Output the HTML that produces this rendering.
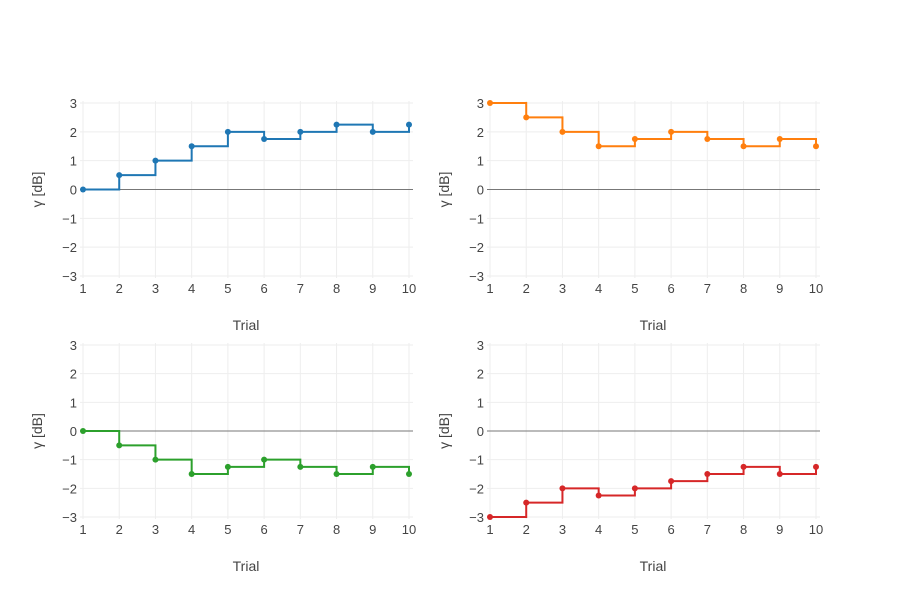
<!DOCTYPE html>
<html><head><meta charset="utf-8"><style>
body{margin:0;background:#fff;}
svg{font-family:"Liberation Sans","DejaVu Sans",sans-serif;}
</style></head><body>
<svg id="chart" width="900" height="600"></svg>
<script>
const trials=[1,2,3,4,5,6,7,8,9,10];
const seriesA=[0,0.5,1,1.5,2,1.75,2,2.25,2,2.25];
const seriesB=[3,2.5,2,1.5,1.75,2,1.75,1.5,1.75,1.5];
const seriesC=[0,-0.5,-1,-1.5,-1.25,-1,-1.25,-1.5,-1.25,-1.5];
const seriesD=[-3,-2.5,-2,-2.25,-2,-1.75,-1.5,-1.25,-1.5,-1.25];
const yTicks=[-3,-2,-1,0,1,2,3];
const yTickLabels=["−3","−2","−1","0","1","2","3"];
const xTicks=[1,2,3,4,5,6,7,8,9,10];
const NS="http://www.w3.org/2000/svg";
const svg=document.getElementById('chart');
function mk(t,a,p){const e=document.createElementNS(NS,t);for(const k in a)e.setAttribute(k,a[k]);(p||svg).appendChild(e);return e;}
const panels=[
 {d:seriesA,c:"#1f77b4",x0:83,x1:409,y0:103,y1:276,n:"top-left"},
 {d:seriesB,c:"#ff7f0e",x0:490,x1:816,y0:103,y1:276,n:"top-right"},
 {d:seriesC,c:"#2ca02c",x0:83,x1:409,y0:345,y1:517,n:"bottom-left"},
 {d:seriesD,c:"#d62728",x0:490,x1:816,y0:345,y1:517,n:"bottom-right"}];
panels.forEach(p=>{
 const g=mk('g',{});
 
 
 const xs=v=>p.x0+(v-1)*(p.x1-p.x0)/9;
 const ys=v=>p.y0+(3-v)*(p.y1-p.y0)/6;
 xTicks.forEach(t=>{
  const l=mk('line',{x1:xs(t),x2:xs(t),y1:p.y0-2,y2:p.y1+2,stroke:"#eee"},g);
  
  
  const tx=mk('text',{x:xs(t),y:p.y1+17,'text-anchor':'middle','font-size':13,fill:"#444"},g);
  tx.textContent=t;
  
  
 });
 yTicks.forEach((t,i)=>{
  const l=mk('line',{x1:p.x0-3,x2:p.x1+4,y1:ys(t),y2:ys(t),stroke:t===0?"#777":"#eee"},g);
  
  
  const tx=mk('text',{x:p.x0-6,y:ys(t)+5,'text-anchor':'end','font-size':13,fill:"#444"},g);
  tx.textContent=yTickLabels[i];
  
  
 });
 const yt=mk('text',{x:0,y:0,transform:`translate(${p.x0-41},${(p.y0+p.y1)/2}) rotate(-90)`,'text-anchor':'middle','font-size':14,fill:"#444"},g);
 yt.textContent="γ [dB]";
 
 
 const xt=mk('text',{x:(p.x0+p.x1)/2,y:p.y1+54,'text-anchor':'middle','font-size':14,fill:"#444"},g);
 xt.textContent="Trial";
 
 
 let d=`M${xs(trials[0])},${ys(p.d[0])}`;
 for(let i=1;i<trials.length;i++){d+=`H${xs(trials[i])}V${ys(p.d[i])}`;}
 const path=mk('path',{d:d,fill:"none",stroke:p.c,'stroke-width':2},g);
 
 
 trials.forEach((t,i)=>{
  const c=mk('circle',{cx:xs(t),cy:ys(p.d[i]),r:3,fill:p.c},g);
  
  
 });
});
</script>
</body></html>
